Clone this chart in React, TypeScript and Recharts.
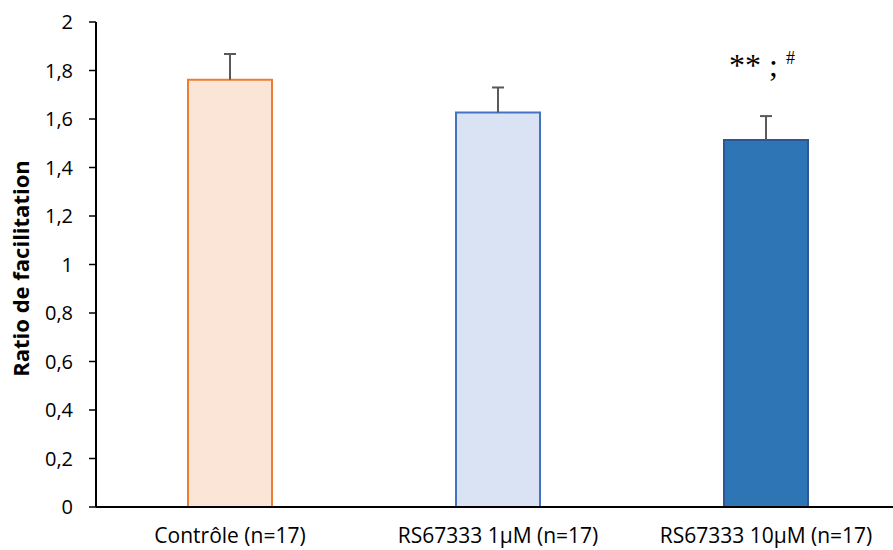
import React from "react";
import { Bar, BarChart, Cell, LabelList, XAxis, YAxis } from "recharts";

// valeurs
const groupes = ["Contrôle (n=17)", "RS67333 1µM (n=17)", "RS67333 10µM (n=17)"];
const ratios = [1.762, 1.627, 1.513];
const erreurs = [0.106, 0.103, 0.099];
const signif = ["", "", "** ; #"];
const yTicks = [0, 0.2, 0.4, 0.6, 0.8, 1, 1.2, 1.4, 1.6, 1.8, 2];
const bornes = [0, 1, 2, 3];

const FILLS = ["#FBE5D6", "#DAE3F3", "#2E75B6"];
const STROKES = ["#ED7D31", "#4472C4", "#2F5597"];
const FONT = "'Open Sans', Lato, sans-serif";

const data = groupes.map((g, i) => ({
  groupe: g,
  ratio: ratios[i],
  err: erreurs[i],
  signif: signif[i],
}));

const fmt = (v: number) => String(v).replace(".", ",");

// barre d'erreur (moitié haute seulement), dessinée comme segment empilé
function Whisker(props: any) {
  const { x, y, width, height } = props;
  const cx = x + width / 2;
  return (
    <g stroke="#595959" strokeWidth={2}>
      <line x1={cx} y1={y} x2={cx} y2={y + height} />
      <line x1={cx - 6} y1={y} x2={cx + 6} y2={y} />
    </g>
  );
}

function SignifLabel(props: any) {
  const { x, y, width, value } = props;
  if (!value) return null;
  const [main] = String(value).split("#");
  return (
    <text
      x={x + width / 2 - 4}
      y={y - 40}
      textAnchor="middle"
      fontFamily="'Liberation Serif', 'DejaVu Serif', serif"
      fontSize={32}
      fill="#000"
    >
      {main}
      <tspan fontSize={18} dy={-12}>#</tspan>
    </text>
  );
}

function AxisTitle(props: any) {
  const { viewBox } = props;
  const cx = viewBox.x + 20;
  const cy = viewBox.y + viewBox.height / 2 + 4;
  return (
    <text
      x={cx}
      y={cy}
      transform={`rotate(-90, ${cx}, ${cy})`}
      textAnchor="middle"
      dominantBaseline="central"
      fontFamily={FONT}
      fontWeight={700}
      fontSize={22}
      fill="#000"
    >
      Ratio de facilitation
    </text>
  );
}

export default function App() {
  return (
    <div
      style={{
        position: "absolute",
        left: 0,
        top: 0,
        width: 893,
        height: 550,
        overflow: "hidden",
        background: "#fff",
      }}
    >
      <BarChart
        width={900}
        height={550}
        data={data}
        margin={{ top: 22, right: 0, bottom: 0, left: 0 }}
      >
        <YAxis
          type="number"
          domain={[0, 2]}
          ticks={yTicks}
          tickFormatter={fmt}
          width={96}
          axisLine={{ stroke: "#000", strokeWidth: 2 }}
          tickLine={{ stroke: "#000", strokeWidth: 1.5 }}
          tickSize={7}
          tickMargin={16}
          tick={{ fill: "#000", fontSize: 20, fontFamily: FONT }}
          interval={0}
          label={<AxisTitle />}
        />
        <XAxis
          xAxisId="bornes"
          type="number"
          domain={[0, 3]}
          ticks={bornes}
          height={0}
          axisLine={false}
          tick={false}
          tickLine={{ stroke: "#000", strokeWidth: 1.5 }}
          tickSize={7}
        />
        <XAxis
          xAxisId="cat"
          dataKey="groupe"
          type="category"
          height={43}
          axisLine={{ stroke: "#000", strokeWidth: 2 }}
          tickLine={false}
          tickSize={7}
          tickMargin={14}
          tick={{ fill: "#000", fontSize: 21, fontFamily: FONT }}
          interval={0}
        />
        <Bar
          xAxisId="cat"
          dataKey="ratio"
          stackId="a"
          barSize={84}
          strokeWidth={2}
          isAnimationActive={false}
        >
          {ratios.map((_, i) => (
            <Cell key={i} fill={FILLS[i]} stroke={STROKES[i]} />
          ))}
        </Bar>
        <Bar
          xAxisId="cat"
          dataKey="err"
          stackId="a"
          barSize={84}
          shape={<Whisker />}
          isAnimationActive={false}
        >
          <LabelList dataKey="signif" content={<SignifLabel />} />
        </Bar>
      </BarChart>
    </div>
  );
}
